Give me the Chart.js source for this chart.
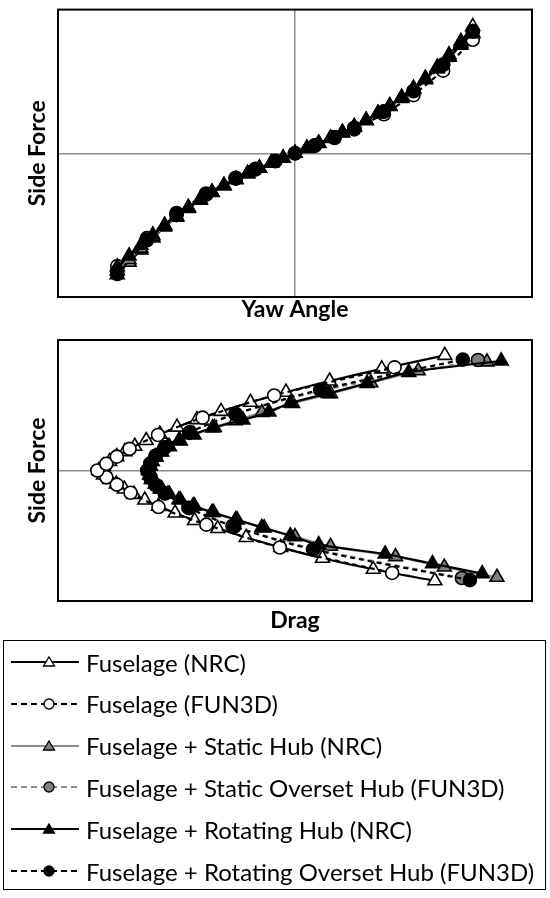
<!DOCTYPE html>
<html>
<head>
<meta charset="utf-8">
<script src="https://cdn.jsdelivr.net/npm/chart.js@4.4.1/dist/chart.umd.min.js"></script>
<style>
  body { margin: 0; width: 550px; height: 898px; background: #fff; position: relative; overflow: hidden; font-family: Lato, sans-serif; }
  canvas { position: absolute; left: 0; }
  #legend { position: absolute; left: 3px; top: 640px; width: 543px; height: 250px; border: 1.5px solid #000; box-sizing: border-box; }
  .row { position: absolute; left: 0; height: 28px; display: flex; align-items: center; }
  .row svg { margin-left: 6px; }
  .row span { margin-left: 6px; font-size: 24px; color: #000; white-space: nowrap; }
</style>
</head>
<body>
<canvas id="chartYaw" width="550" height="330" style="top:0"></canvas>
<canvas id="chartDrag" width="550" height="308" style="top:328px"></canvas>
<div id="legend"></div>
<script>
// Series labels (legend order = draw order)
const labels = [
    'Fuselage (NRC)',
    'Fuselage (FUN3D)',
    'Fuselage + Static Hub (NRC)',
    'Fuselage + Static Overset Hub (FUN3D)',
    'Fuselage + Rotating Hub (NRC)',
    'Fuselage + Rotating Overset Hub (FUN3D)',
];

// Yaw angles (deg) – NRC wind tunnel sweep and FUN3D runs
const yawNRC = [-18, -16.8, -15.6, -14.4, -13.2, -12, -10.8, -9.6, -8.4, -7.2, -6, -4.8, -3.6, -2.4, -1.2, 0,
    1.2, 2.4, 3.6, 4.8, 6, 7.2, 8.4, 9.6, 10.8, 12, 13.2, 14.4, 15.6, 16.8, 18];
const yawFUN3D = [-18, -15, -12, -9, -6, -4, -2, 0, 2, 4, 6, 9, 12, 15, 18];

// Side force (normalised)
const sfFuselageNRC = [-0.845, -0.757, -0.672, -0.589, -0.513, -0.445, -0.383, -0.326, -0.273, -0.226, -0.183, -0.142, -0.104, -0.069, -0.034, 0,
    0.035, 0.070, 0.106, 0.145, 0.186, 0.230, 0.278, 0.332, 0.390, 0.453, 0.523, 0.600, 0.686, 0.779, 0.882];
const sfFuselageFUN3D = [-0.785, -0.590, -0.415, -0.280, -0.170, -0.108, -0.052, 0, 0.052, 0.106, 0.166, 0.272, 0.405, 0.575, 0.790];
const sfStaticNRC = [-0.818, -0.740, -0.660, -0.581, -0.507, -0.440, -0.378, -0.322, -0.271, -0.224, -0.181, -0.141, -0.103, -0.068, -0.034, 0,
    0.034, 0.069, 0.104, 0.142, 0.182, 0.226, 0.273, 0.326, 0.382, 0.444, 0.513, 0.589, 0.672, 0.764, 0.832];
const sfStaticFUN3D = [-0.824, -0.600, -0.425, -0.285, -0.174, -0.111, -0.054, 0, 0.054, 0.112, 0.176, 0.290, 0.432, 0.615, 0.847];
const sfRotatingNRC = [-0.790, -0.714, -0.640, -0.568, -0.500, -0.436, -0.376, -0.321, -0.270, -0.224, -0.181, -0.141, -0.103, -0.068, -0.034, 0,
    0.035, 0.070, 0.106, 0.145, 0.186, 0.230, 0.278, 0.330, 0.387, 0.449, 0.517, 0.590, 0.668, 0.752, 0.840];
const sfRotatingFUN3D = [-0.840, -0.605, -0.430, -0.288, -0.176, -0.112, -0.055, 0, 0.055, 0.113, 0.177, 0.292, 0.434, 0.618, 0.850];

// Drag (normalised)
const dragFuselageNRC = [0.795, 0.665, 0.558, 0.470, 0.397, 0.337, 0.288, 0.247, 0.212, 0.183, 0.160, 0.140, 0.123, 0.109, 0.096, 0.086,
    0.096, 0.109, 0.124, 0.141, 0.162, 0.186, 0.215, 0.251, 0.293, 0.344, 0.406, 0.481, 0.573, 0.683, 0.816];
const dragFuselageFUN3D = [0.705, 0.468, 0.313, 0.212, 0.153, 0.124, 0.102, 0.083, 0.102, 0.124, 0.151, 0.211, 0.305, 0.456, 0.710];
const dragStaticNRC = [0.926, 0.815, 0.712, 0.575, 0.500, 0.435, 0.378, 0.328, 0.288, 0.258, 0.235, 0.219, 0.207, 0.199, 0.195, 0.193,
    0.195, 0.199, 0.207, 0.219, 0.235, 0.258, 0.287, 0.326, 0.374, 0.430, 0.495, 0.575, 0.660, 0.760, 0.905];
const dragStaticFUN3D = [0.852, 0.540, 0.368, 0.275, 0.225, 0.206, 0.195, 0.190, 0.195, 0.206, 0.225, 0.277, 0.374, 0.560, 0.886];
const dragRotatingNRC = [0.895, 0.790, 0.690, 0.550, 0.490, 0.430, 0.375, 0.325, 0.285, 0.255, 0.232, 0.216, 0.205, 0.197, 0.193, 0.191,
    0.193, 0.197, 0.205, 0.215, 0.232, 0.255, 0.285, 0.330, 0.390, 0.445, 0.490, 0.570, 0.652, 0.740, 0.935];
const dragRotatingFUN3D = [0.869, 0.538, 0.372, 0.277, 0.226, 0.206, 0.195, 0.188, 0.195, 0.206, 0.226, 0.278, 0.375, 0.553, 0.854];

const GREY = '#8c8c8c';
const FILL_GREY = '#808080';
const FONT = 'Lato, "Open Sans", sans-serif';
const TITLE_FONT = { family: FONT, size: 23, weight: 'bold' };

// line / marker look per series
const styles = [
    { line: '#000', dash: [], shape: 'triangle', fill: '#fff' },
    { line: '#000', dash: [5, 4], shape: 'circle', fill: '#fff' },
    { line: GREY, dash: [], shape: 'triangle', fill: FILL_GREY },
    { line: GREY, dash: [5, 4], shape: 'circle', fill: FILL_GREY },
    { line: '#000', dash: [], shape: 'triangle', fill: '#000' },
    { line: '#000', dash: [5, 4], shape: 'circle', fill: '#000' },
];

const pts = (xs, ys) => xs.map((x, i) => ({ x, y: ys[i] }));

function dataset(i, data, tension) {
    const s = styles[i];
    return {
        label: labels[i],
        data,
        order: 6 - i, // last series on top
        showLine: true,
        tension,
        borderColor: s.line,
        borderWidth: 2.2,
        borderDash: s.dash,
        pointStyle: s.shape,
        pointRadius: s.shape === 'triangle' ? 8 : 6.5,
        pointBorderWidth: 1.6,
        pointBorderColor: '#000',
        pointBackgroundColor: s.fill,
    };
}

// plot box round the chart area
const framePlugin = {
    id: 'frame',
    beforeDatasetsDraw(chart) {
        const { ctx, chartArea: a } = chart;
        ctx.save();
        ctx.lineWidth = 2;
        ctx.strokeStyle = '#000';
        ctx.strokeRect(a.left, a.top, a.right - a.left, a.bottom - a.top);
        ctx.restore();
    },
};

const zeroOnly = (scale) => { scale.ticks = [{ value: 0 }]; };

function yAxis() {
    return {
        min: -1, max: 1,
        afterFit: (s) => { s.width = 58; },
        afterBuildTicks: zeroOnly,
        ticks: { display: false },
        grid: { color: GREY, lineWidth: 1.5, drawTicks: false },
        border: { display: false },
        title: { display: true, text: 'Side Force', color: '#000', font: TITLE_FONT, padding: { top: 24, bottom: 0 } },
    };
}

function baseOptions(padTop, xScale) {
    return {
        responsive: false,
        animation: false,
        devicePixelRatio: 1,
        layout: { padding: { top: padTop, right: 18, left: 0, bottom: 0 } },
        plugins: { legend: { display: false }, tooltip: { enabled: false } },
        scales: { x: xScale, y: yAxis() },
    };
}

// Side force vs yaw angle
new Chart(document.getElementById('chartYaw'), {
    type: 'scatter',
    data: {
        datasets: [
            dataset(0, pts(yawNRC, sfFuselageNRC), 0),
            dataset(1, pts(yawFUN3D, sfFuselageFUN3D), 0),
            dataset(2, pts(yawNRC, sfStaticNRC), 0),
            dataset(3, pts(yawFUN3D, sfStaticFUN3D), 0),
            dataset(4, pts(yawNRC, sfRotatingNRC), 0),
            dataset(5, pts(yawFUN3D, sfRotatingFUN3D), 0),
        ],
    },
    options: baseOptions(4, {
        type: 'linear', min: -24, max: 24,
        afterFit: (s) => { s.height = 33; },
        afterBuildTicks: zeroOnly,
        ticks: { display: false },
        grid: { color: GREY, lineWidth: 1.5, drawTicks: false },
        border: { display: false },
        title: { display: true, text: 'Yaw Angle', color: '#000', font: TITLE_FONT, padding: { top: 0, bottom: 7 } },
    }),
    plugins: [framePlugin],
});

// Side force vs drag (drag polar)
new Chart(document.getElementById('chartDrag'), {
    type: 'scatter',
    data: {
        datasets: [
            dataset(0, pts(dragFuselageNRC, sfFuselageNRC), 0.3),
            dataset(1, pts(dragFuselageFUN3D, sfFuselageFUN3D), 0.3),
            dataset(2, pts(dragStaticNRC, sfStaticNRC), 0.3),
            dataset(3, pts(dragStaticFUN3D, sfStaticFUN3D), 0.3),
            dataset(4, pts(dragRotatingNRC, sfRotatingNRC), 0.3),
            dataset(5, pts(dragRotatingFUN3D, sfRotatingFUN3D), 0.3),
        ],
    },
    options: baseOptions(12, {
        type: 'linear', min: 0, max: 1,
        afterFit: (s) => { s.height = 35; },
        ticks: { display: false },
        grid: { display: false, drawTicks: false },
        border: { display: false },
        title: { display: true, text: 'Drag', color: '#000', font: TITLE_FONT, padding: { top: 0, bottom: 2 } },
    }),
    plugins: [framePlugin],
});

// Legend: line sample + marker, then label
const legend = document.getElementById('legend');
labels.forEach((label, i) => {
    const s = styles[i];
    const dash = s.dash.length ? `stroke-dasharray="6 4"` : '';
    const marker = s.shape === 'triangle'
        ? `<polygon points="39,7 44.5,16 33.5,16" fill="${s.fill}" stroke="#000" stroke-width="1.3"/>`
        : `<circle cx="39" cy="12" r="5" fill="${s.fill}" stroke="#000" stroke-width="1.3"/>`;
    const row = document.createElement('div');
    row.className = 'row';
    row.style.top = (7 + i * 41.8) + 'px';
    row.innerHTML = `<svg width="70" height="24"><line x1="1" y1="12" x2="69" y2="12" stroke="${s.line}" stroke-width="2" ${dash}/>${marker}</svg><span>${label}</span>`;
    legend.appendChild(row);
});
</script>
</body>
</html>
